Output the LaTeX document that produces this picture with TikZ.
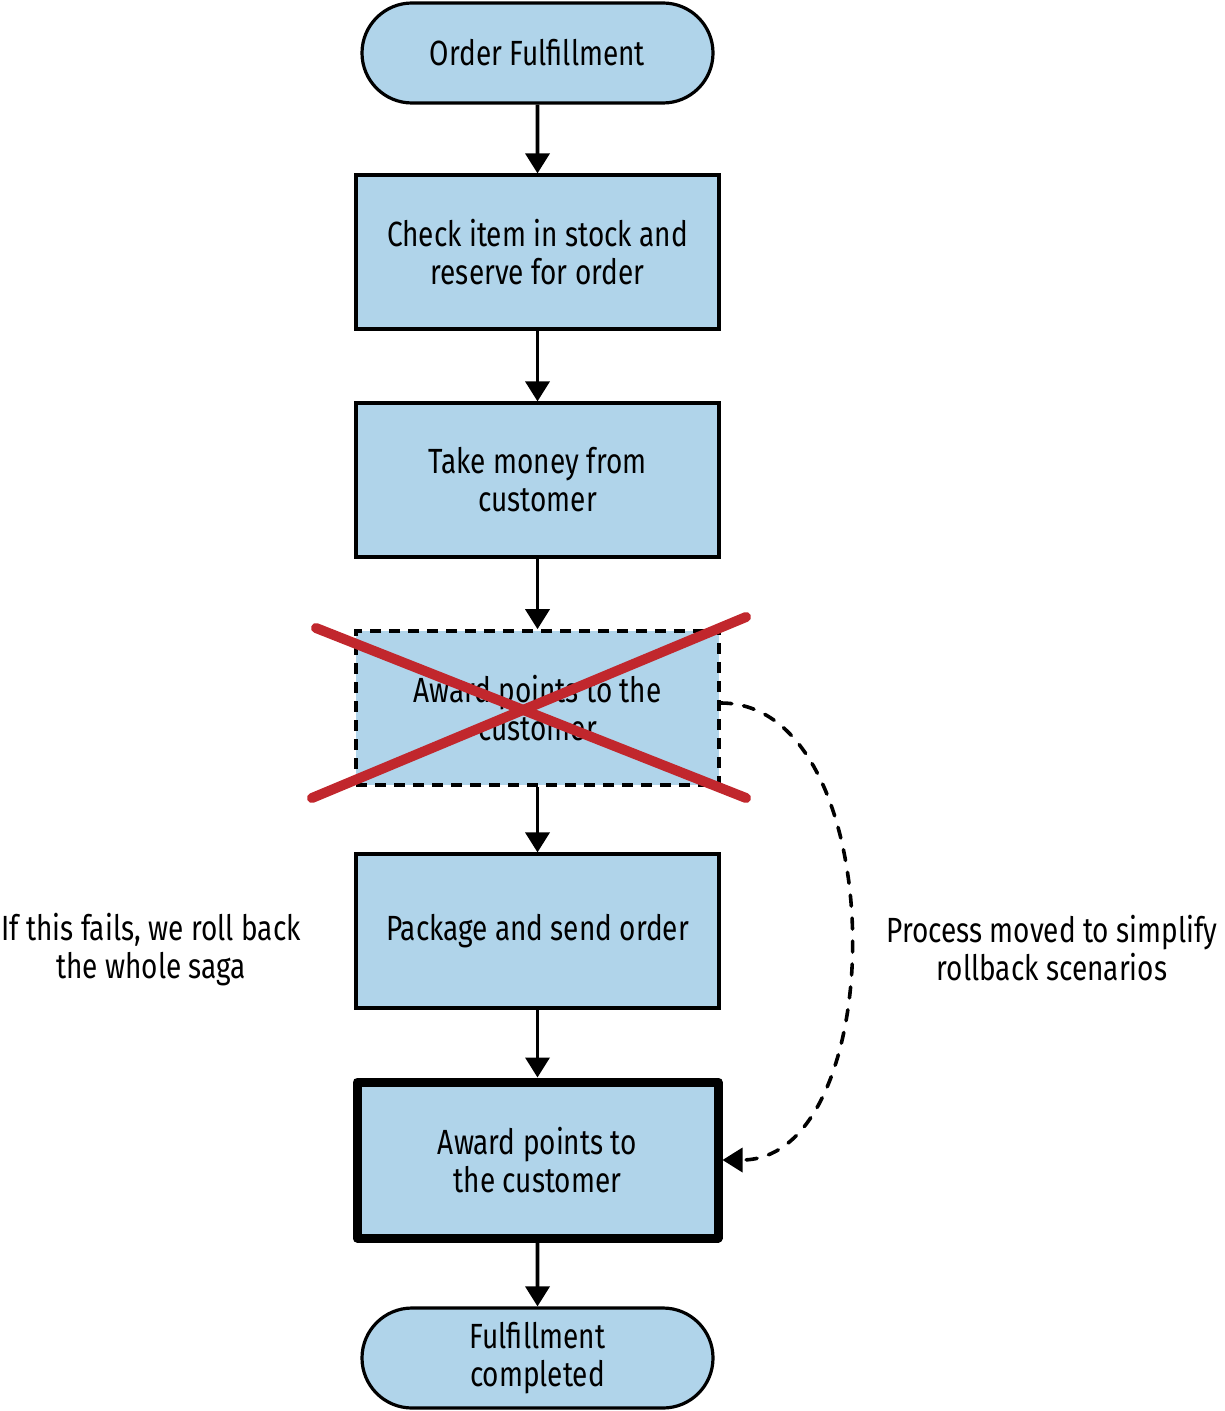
\documentclass[tikz,border=0pt]{standalone}
\usepackage{fontspec}
\setmainfont{Fira Sans}[FakeStretch=0.8]
\usepackage{tikz}
\usetikzlibrary{shapes,arrows.meta,positioning,calc}
\definecolor{sagablue}{HTML}{B0D4EA}
\definecolor{sagared}{HTML}{C1272D}

\begin{document}
\begin{tikzpicture}[x=0.5pt,y=-0.5pt,
  every node/.style={font=\fontsize{17.5}{19}\selectfont,align=center},
  stepbox/.style={rectangle,draw=black,line width=1.6pt,fill=sagablue,
                  minimum width=181.5pt,minimum height=77pt,inner sep=0pt},
  termbox/.style={rounded rectangle,draw=black,line width=1.6pt,fill=sagablue,
                  minimum width=175.5pt,minimum height=50pt,inner sep=0pt},
  flow/.style={line width=1.8pt,-{Triangle[length=10pt,width=12pt]}}]

  \useasboundingbox (0,0) rectangle (1224,1411);

  \node[termbox] (start) at (537.5,53) {Order Fulfillment};
  \node[stepbox] (stock) at (537.5,252) {Check item in stock and\\reserve for order};
  \node[stepbox] (money) at (537.5,480) {Take money from\\customer};
  \node[stepbox,line width=1.8pt,dash pattern=on 5.5pt off 4pt] (oldpts) at (537.5,708)
       {Award points to the\\customer};
  \node[stepbox] (send) at (537.5,931) {Package and send order};
  \node[stepbox,line width=4.5pt,minimum width=180.5pt,minimum height=78pt,
        line join=round] (newpts) at (537.5,1160) {Award points to\\the customer};
  \node[termbox] (done) at (537.5,1358) {Fulfillment\\completed};

  % struck-out step
  \draw[sagared,line width=5pt,line cap=round] (316,628) -- (746,798);
  \draw[sagared,line width=5pt,line cap=round] (312,798) -- (746,617);

  \draw[flow] (start) -- (stock);
  \draw[flow] (stock) -- (money);
  \draw[flow] (money) -- (oldpts);
  \draw[flow] (oldpts) -- (send);
  \draw[flow] (send) -- (newpts);
  \draw[flow] (newpts) -- (done);

  % moved step
  \coordinate (from) at ($(oldpts.east)+(0,-5)$);
  \draw[line width=1.8pt,line cap=round,dash pattern=on 5.5pt off 6pt,
        -{Triangle[length=10pt,width=12pt]}]
       (from) .. controls (893,703) and (893,1160) .. (newpts.east);

  \node (fails) at (151,950) {If this fails, we roll back\\the whole saga};
  \node (moved) at (1052,948) {Process moved to simplify\\rollback scenarios};

\end{tikzpicture}
\end{document}
